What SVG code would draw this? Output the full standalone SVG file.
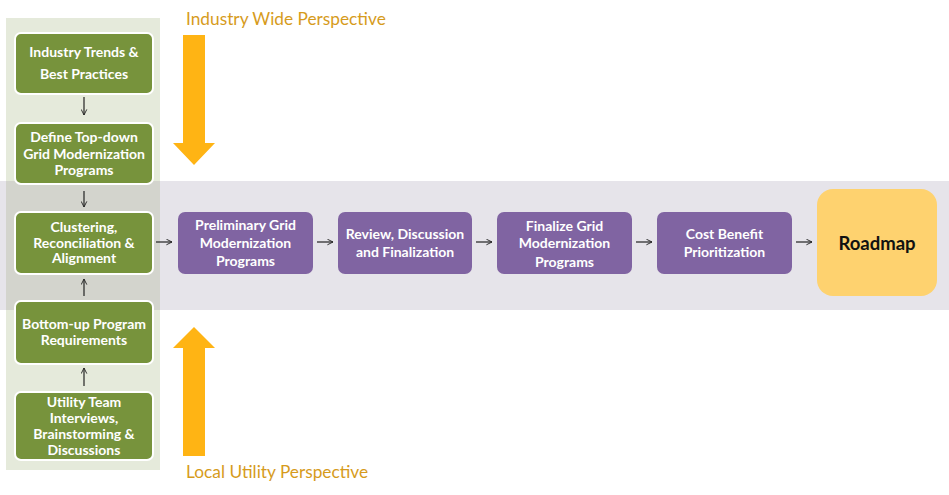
<svg xmlns="http://www.w3.org/2000/svg" width="949" height="495" viewBox="0 0 949 495">
<defs>
<style>
.g rect{fill:#77933c;stroke:#ffffff;stroke-width:2}
.p rect{fill:#8064a2}
.t{font-family:Lato,"Liberation Sans",sans-serif;font-weight:bold;font-size:14px;fill:#ffffff;text-anchor:middle}
.o{font-family:Lato,"Liberation Sans",sans-serif;font-size:17.3px;fill:#d69b1c}
.c line{stroke:#222;stroke-width:1.2;marker-end:url(#ah)}
</style>
<marker id="ah" viewBox="0 0 10 10" refX="9" refY="5" markerWidth="7" markerHeight="7" markerUnits="userSpaceOnUse" orient="auto">
<path d="M1,1 L9,5 L1,9" fill="none" stroke="#222" stroke-width="1.3"/>
</marker>
</defs>
<rect x="0" y="0" width="949" height="495" fill="#ffffff"/>
<rect x="6" y="18" width="154" height="452" fill="#e5eadb"/>
<rect x="0" y="181" width="949" height="129" fill="#e6e4ea"/>
<rect x="6" y="181" width="154" height="129" fill="#d3d4cd"/>
<g id="orange-arrows">
<path d="M183,35 H205 V143 H215 L194,165 L173,143 H183 Z" fill="#ffb414"/>
<path d="M183,456 H205 V348 H215 L194,327 L173,348 H183 Z" fill="#ffb414"/>
</g>
<text class="o" x="186" y="25">Industry Wide Perspective</text>
<text class="o" x="186" y="478">Local Utility Perspective</text>
<g id="n1" class="g"><rect x="15" y="33" width="138" height="61" rx="6"/><text class="t"><tspan x="84" y="57">Industry Trends &amp;</tspan><tspan x="84" y="79">Best Practices</tspan></text></g>
<g id="n2" class="g"><rect x="15" y="123" width="138" height="61" rx="6"/><text class="t"><tspan x="84" y="142">Define Top-down</tspan><tspan x="84" y="158.5">Grid Modernization</tspan><tspan x="84" y="175">Programs</tspan></text></g>
<g id="n3" class="g"><rect x="15" y="212" width="138" height="62" rx="6"/><text class="t"><tspan x="84" y="232">Clustering,</tspan><tspan x="84" y="247.5">Reconciliation &amp;</tspan><tspan x="84" y="263">Alignment</tspan></text></g>
<g id="n4" class="g"><rect x="15" y="301" width="138" height="63" rx="6"/><text class="t"><tspan x="84" y="329">Bottom-up Program</tspan><tspan x="84" y="345">Requirements</tspan></text></g>
<g id="n5" class="g"><rect x="15" y="392" width="138" height="68" rx="6"/><text class="t"><tspan x="84" y="407">Utility Team</tspan><tspan x="84" y="423">Interviews,</tspan><tspan x="84" y="439">Brainstorming &amp;</tspan><tspan x="84" y="455">Discussions</tspan></text></g>
<g id="p1" class="p"><rect x="178" y="212" width="135" height="62" rx="7"/><text class="t"><tspan x="245.5" y="230">Preliminary Grid</tspan><tspan x="245.5" y="248">Modernization</tspan><tspan x="245.5" y="266">Programs</tspan></text></g>
<g id="p2" class="p"><rect x="338" y="212" width="134" height="62" rx="7"/><text class="t"><tspan x="405" y="239">Review, Discussion</tspan><tspan x="405" y="257">and Finalization</tspan></text></g>
<g id="p3" class="p"><rect x="497" y="212" width="135" height="62" rx="7"/><text class="t"><tspan x="564.5" y="231">Finalize Grid</tspan><tspan x="564.5" y="248">Modernization</tspan><tspan x="564.5" y="266.5">Programs</tspan></text></g>
<g id="p4" class="p"><rect x="657" y="212" width="135" height="62" rx="7"/><text class="t"><tspan x="724.5" y="239">Cost Benefit</tspan><tspan x="724.5" y="257">Prioritization</tspan></text></g>
<g id="roadmap"><rect x="817" y="189" width="120" height="107" rx="16" fill="#fed26f"/><text x="877" y="249.5" font-family="Lato,'Liberation Sans',sans-serif" font-weight="bold" font-size="18.5" fill="#111" text-anchor="middle">Roadmap</text></g>
<g id="connectors" class="c">
<line x1="84" y1="97" x2="84" y2="115"/>
<line x1="84" y1="191" x2="84" y2="207"/>
<line x1="84" y1="296" x2="84" y2="279"/>
<line x1="84" y1="386" x2="84" y2="368"/>
<line x1="156" y1="242" x2="172" y2="242"/>
<line x1="317" y1="242" x2="333" y2="242"/>
<line x1="476" y1="242" x2="492" y2="242"/>
<line x1="636" y1="242" x2="652" y2="242"/>
<line x1="796" y1="242" x2="812" y2="242"/>
</g>
</svg>
